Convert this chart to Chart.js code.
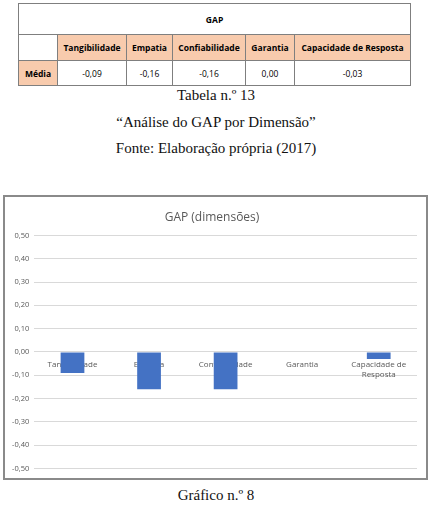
<!DOCTYPE html>
<html>
<head>
<meta charset="utf-8">
<script src="https://cdn.jsdelivr.net/npm/chart.js@4.4.1/dist/chart.umd.min.js"></script>
<style>
  body { margin: 0; background: #fff; width: 432px; height: 511px; position: relative; overflow: hidden; }
  #gapTable { position: absolute; left: 18px; top: 3px; width: 392px; border-collapse: collapse; table-layout: fixed;
              font-family: "Open Sans", sans-serif; font-size: 8.5px; color: #000; }
  #gapTable td { border: 1px solid #7f7f7f; text-align: center; padding: 0; }
  #gapTable .head { background: #f8cbad; font-weight: bold; }
  .cap { position: absolute; left: 0; width: 432px; text-align: center; font-family: "Liberation Serif", serif; font-size: 15px; color: #111; }
  #box { position: absolute; left: 3px; top: 195px; width: 421px; height: 281px; border: 2px solid #8a8a8a; background: #fff; }
</style>
</head>
<body>
<table id="gapTable"></table>
<div class="cap" style="top:87px">Tabela n.º 13</div>
<div class="cap" style="top:114px">“Análise do GAP por Dimensão”</div>
<div class="cap" style="top:140px">Fonte: Elaboração própria (2017)</div>
<div id="box"><canvas id="gapChart"></canvas></div>
<div class="cap" style="top:487px">Gráfico n.º 8</div>

<script>
// dados (tabela n.º 13 / gráfico n.º 8)
const categories = ['Tangibilidade', 'Empatia', 'Confiabilidade', 'Garantia', 'Capacidade de Resposta'];
const gapValues = [-0.09, -0.16, -0.16, 0.00, -0.03];
const rowLabel = 'Média';
const tableTitle = 'GAP';
const chartTitle = 'GAP (dimensões)';

function fmt(v) {
    return v.toFixed(2).replace('.', ','); // virgula decimal
}

// Tabela
const table = document.getElementById('gapTable');
const colWidths = [39, 69, 46, 73, 49, 116];
table.innerHTML =
    '<colgroup>' + colWidths.map(w => '<col style="width:' + w + 'px">').join('') + '</colgroup>' +
    '<tr style="height:31px"><td colspan="6" style="font-weight:bold">' + tableTitle + '</td></tr>' +
    '<tr style="height:26px"><td></td>' + categories.map(c => '<td class="head">' + c + '</td>').join('') + '</tr>' +
    '<tr style="height:25px"><td class="head">' + rowLabel + '</td>' + gapValues.map(v => '<td>' + fmt(v) + '</td>').join('') + '</tr>';

// Gráfico
const axisLabels = categories.map(c => c.length > 14 ? ['Capacidade de', 'Resposta'] : c);

const ctx = document.getElementById('gapChart').getContext('2d');
new Chart(ctx, {
    type: 'bar',
    data: {
        labels: axisLabels,
        datasets: [{
            label: chartTitle,
            data: gapValues,
            backgroundColor: '#4472c4',
            borderWidth: 0,
            categoryPercentage: 1,
            barPercentage: 0.31
        }]
    },
    options: {
        responsive: true,
        maintainAspectRatio: false,
        animation: false,
        layout: { padding: { left: 2, right: 9, top: 0, bottom: 8 } },
        plugins: {
            legend: { display: false },
            tooltip: { enabled: false },
            title: {
                display: true,
                text: chartTitle,
                color: '#595959',
                font: { family: 'Open Sans', size: 12, weight: 'normal' },
                padding: { top: 13, bottom: 11 }
            }
        },
        scales: {
            x: {
                position: { y: 0 },
                grid: { display: false },
                border: { display: false },
                ticks: {
                    color: '#595959',
                    font: { family: 'Open Sans', size: 8 },
                    padding: 0,
                    maxRotation: 0,
                    autoSkip: false
                }
            },
            y: {
                min: -0.5,
                max: 0.5,
                grid: { color: '#d9d9d9', drawTicks: false },
                border: { display: false },
                ticks: {
                    stepSize: 0.1,
                    color: '#595959',
                    font: { family: 'Open Sans', size: 7.5 },
                    padding: 5,
                    callback: v => fmt(v)
                }
            }
        }
    }
});
</script>
</body>
</html>
